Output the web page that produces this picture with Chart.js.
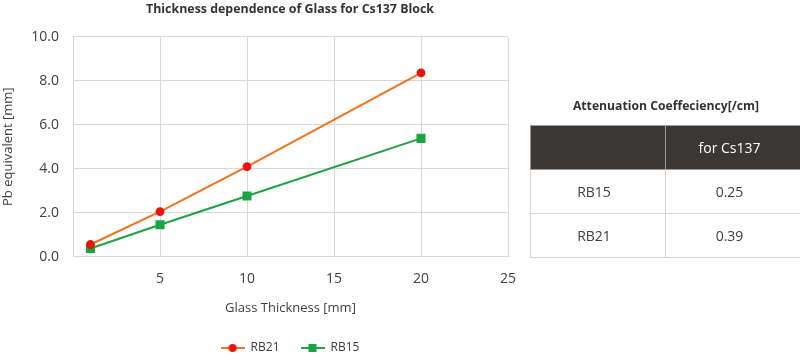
<!DOCTYPE html>
<html>
<head>
<meta charset="utf-8">
<script src="https://cdn.jsdelivr.net/npm/chart.js@4/dist/chart.umd.min.js"></script>
<style>
  html, body { margin: 0; padding: 0; background: #fff; }
  body { width: 800px; height: 357px; position: relative; overflow: hidden; font-family: "Open Sans", sans-serif; }
  #wrap { position: absolute; left: 0; top: 0; width: 580px; height: 357px; }
  #tblTitle { position: absolute; left: 531px; width: 270px; top: 97px; text-align: center; font-weight: bold; font-size: 12.2px; color: #333; }
  table { position: absolute; left: 530px; top: 125px; width: 272px; border-collapse: collapse; font-size: 14px; color: #404040; z-index: 2; table-layout: fixed; }
  td, th { border: 1px solid #d4d4d4; text-align: center; padding: 0 8px 0 0; }
  th { background: #3b3735; color: #fff; font-weight: normal; height: 43px; border-color: #9a9a9a; }
  td { height: 43px; }
  col.c1 { width: 135px; }
</style>
</head>
<body>
<div id="wrap"><canvas id="c" width="580" height="357"></canvas></div>
<div id="tblTitle"></div>
<table id="tbl"></table>
<script>
const chartTitle = "Thickness dependence of Glass for Cs137 Block";
const xTitle = "Glass Thickness [mm]";
const yTitle = "Pb equivalent [mm]";
const thickness = [1, 5, 10, 20];
const rb21 = [0.55, 2.05, 4.09, 8.36];
const rb15 = [0.37, 1.45, 2.76, 5.38];
const seriesNames = ["RB21", "RB15"];

const tableTitle = "Attenuation Coeffeciency[/cm]";
const tableHeader = ["", "for Cs137"];
const tableRows = ["RB15", "RB21"];
const tableValues = ["0.25", "0.39"];

document.getElementById('tblTitle').textContent = tableTitle;
const tbl = document.getElementById('tbl');
let html = '<colgroup><col class="c1"><col></colgroup>';
html += '<tr>' + tableHeader.map(h => '<th>' + h + '</th>').join('') + '</tr>';
tableRows.forEach((r, i) => { html += '<tr><td>' + r + '</td><td>' + tableValues[i] + '</td></tr>'; });
tbl.innerHTML = html;

const colors = {
  RB21: { line: '#f47216', point: '#e8140c', style: 'circle' },
  RB15: { line: '#1aa443', point: '#1aa443', style: 'rect' }
};

function legendGlyph(c) {
  const cv = document.createElement('canvas');
  cv.width = 24; cv.height = 12;
  const g = cv.getContext('2d');
  g.strokeStyle = c.line; g.lineWidth = 2;
  g.beginPath(); g.moveTo(0, 6); g.lineTo(24, 6); g.stroke();
  g.fillStyle = c.point;
  if (c.style === 'circle') { g.beginPath(); g.arc(12, 6, 4, 0, Math.PI * 2); g.fill(); }
  else { g.fillRect(8, 2, 8, 8); }
  return cv;
}

const toPts = (ys) => thickness.map((x, i) => ({ x: x, y: ys[i] }));
const textColor = '#404040';
const gridColor = '#d9d9d9';

new Chart(document.getElementById('c'), {
  type: 'line',
  data: {
    datasets: [
      { label: seriesNames[0], data: toPts(rb21), borderColor: colors.RB21.line, backgroundColor: colors.RB21.point,
        pointBackgroundColor: colors.RB21.point, pointBorderColor: colors.RB21.point, pointStyle: 'circle', pointRadius: 3.4,
        borderWidth: 2, tension: 0, xAxisID: 'x', yAxisID: 'y' },
      { label: seriesNames[1], data: toPts(rb15), borderColor: colors.RB15.line, backgroundColor: colors.RB15.point,
        pointBackgroundColor: colors.RB15.point, pointBorderColor: colors.RB15.point, pointStyle: 'rect', pointRadius: 5,
        borderWidth: 2, tension: 0, xAxisID: 'x', yAxisID: 'y' }
    ]
  },
  options: {
    responsive: false,
    animation: false,
    layout: { padding: { left: 0, right: 0, top: 0, bottom: -7 } },
    plugins: {
      title: { display: true, text: chartTitle, color: '#333', font: { family: 'Open Sans', size: 12.4, weight: 'bold' }, padding: { top: 2, bottom: 20 } },
      legend: {
        position: 'bottom',
        labels: {
          color: textColor, font: { family: 'Open Sans', size: 12 }, padding: 21,
          usePointStyle: true, pointStyleWidth: 24,
          generateLabels: (chart) => chart.data.datasets.map((ds, i) => ({
            text: ds.label, datasetIndex: i, fontColor: textColor,
            pointStyle: legendGlyph(colors[ds.label]), lineWidth: 0, strokeStyle: 'rgba(0,0,0,0)', fillStyle: 'rgba(0,0,0,0)', hidden: false
          }))
        }
      },
      tooltip: { enabled: false }
    },
    scales: {
      x: {
        type: 'linear', min: 0, max: 25,
        ticks: { stepSize: 5, color: textColor, font: { family: 'Open Sans', size: 14 }, padding: 14,
          callback: (v) => v === 0 ? '' : String(v) },
        grid: { color: gridColor, drawTicks: false },
        border: { color: gridColor },
        title: { display: true, text: xTitle, color: textColor, font: { family: 'Open Sans', size: 13 }, padding: { top: -1, bottom: 5 } }
      },
      y: {
        min: 0, max: 10,
        ticks: { stepSize: 2, color: textColor, font: { family: 'Open Sans', size: 14 }, padding: 14,
          callback: (v) => v.toFixed(1) },
        grid: { color: gridColor, drawTicks: false },
        border: { color: gridColor },
        title: { display: true, text: yTitle, color: textColor, font: { family: 'Open Sans', size: 13 }, padding: { top: 0, bottom: 0 } },
        afterFit: (s) => { s.width = 73; }
      },
      y2: {
        position: 'right', display: true,
        grid: { display: false }, border: { display: false }, ticks: { display: false },
        afterFit: (s) => { s.width = 72; }
      }
    }
  }
});
</script>
</body>
</html>
